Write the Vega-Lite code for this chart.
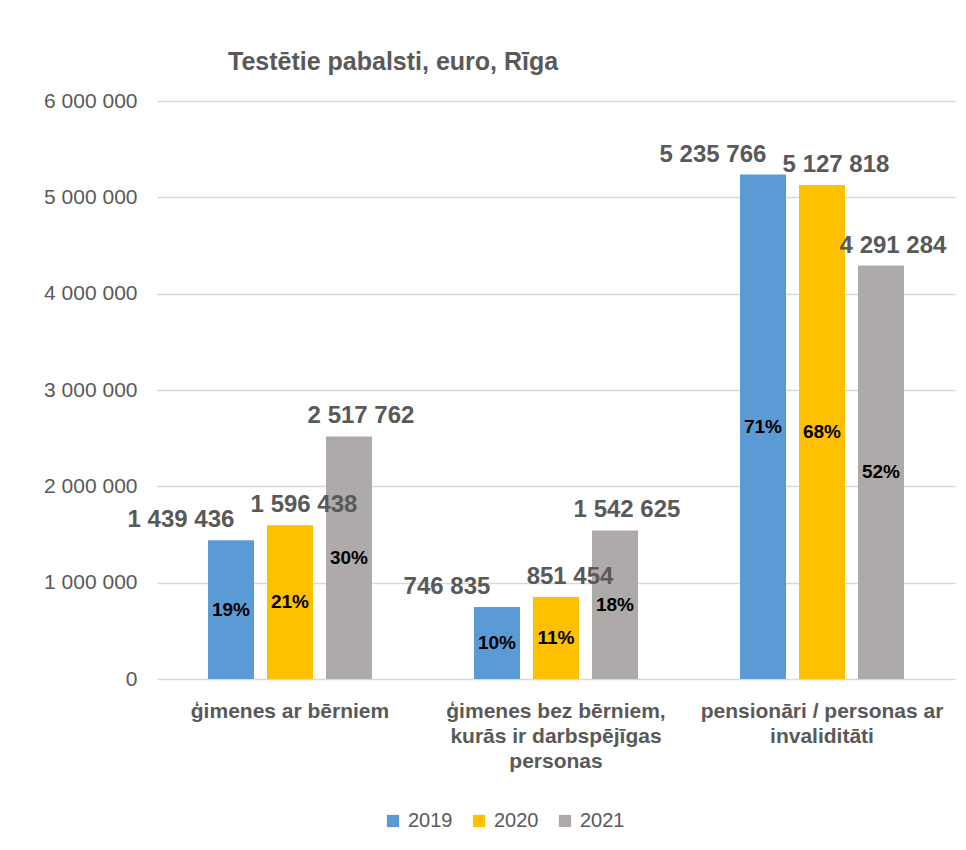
{
  "$schema": "https://vega.github.io/schema/vega-lite/v6.json",
  "width": 798,
  "height": 578,
  "autosize": {"type": "none"},
  "padding": {"left": 157, "top": 101, "right": 11, "bottom": 171},
  "background": "white",
  "config": {
    "locale": {"number": {"decimal": ",", "thousands": " ", "grouping": [3], "currency": ["", " €"]}},
    "font": "Liberation Sans",
    "view": {"stroke": null}
  },
  "title": {
    "text": "Testētie pabalsti, euro, Rīga",
    "anchor": "start",
    "frame": "group",
    "dx": 71,
    "dy": 5,
    "fontSize": 25,
    "fontWeight": "bold",
    "color": "#595959",
    "offset": 20
  },
  "data": {
    "values": [
      {"group": "ģimenes ar bērniem", "year": "2019", "value": 1439436, "share": 0.19},
      {"group": "ģimenes ar bērniem", "year": "2020", "value": 1596438, "share": 0.21},
      {"group": "ģimenes ar bērniem", "year": "2021", "value": 2517762, "share": 0.30},
      {"group": "ģimenes bez bērniem, kurās ir darbspējīgas personas", "year": "2019", "value": 746835, "share": 0.10},
      {"group": "ģimenes bez bērniem, kurās ir darbspējīgas personas", "year": "2020", "value": 851454, "share": 0.11},
      {"group": "ģimenes bez bērniem, kurās ir darbspējīgas personas", "year": "2021", "value": 1542625, "share": 0.18},
      {"group": "pensionāri / personas ar invaliditāti", "year": "2019", "value": 5235766, "share": 0.71},
      {"group": "pensionāri / personas ar invaliditāti", "year": "2020", "value": 5127818, "share": 0.68},
      {"group": "pensionāri / personas ar invaliditāti", "year": "2021", "value": 4291284, "share": 0.52}
    ]
  },
  "encoding": {
    "x": {
      "field": "group",
      "type": "nominal",
      "sort": null,
      "scale": {"paddingInner": 0, "paddingOuter": 0},
      "axis": {
        "title": null,
        "labelAngle": 0,
        "labelFontSize": 21,
        "labelFontWeight": "bold",
        "labelColor": "#595959",
        "labelLimit": 400,
        "labelLineHeight": 25,
        "labelPadding": 21,
        "domain": false,
        "ticks": false,
        "tickSize": 0,
        "labelExpr": "indexof(datum.label, 'kurās') >= 0 ? ['ģimenes bez bērniem,', 'kurās ir darbspējīgas', 'personas'] : indexof(datum.label, 'pensionāri') >= 0 ? ['pensionāri / personas ar', 'invaliditāti'] : datum.label"
      }
    },
    "xOffset": {
      "field": "year",
      "type": "nominal",
      "scale": {"paddingInner": 0.22, "paddingOuter": 0.864}
    }
  },
  "layer": [
    {
      "mark": {"type": "bar"},
      "encoding": {
        "y": {
          "field": "value",
          "type": "quantitative",
          "scale": {"domain": [0, 6000000], "nice": false},
          "axis": {
            "title": null,
            "values": [0, 1000000, 2000000, 3000000, 4000000, 5000000, 6000000],
            "format": ",d",
            "labelFontSize": 21,
            "labelColor": "#595959",
            "grid": true,
            "gridColor": "#d9d9d9",
            "gridWidth": 1.5,
            "domain": false,
            "ticks": false,
            "tickSize": 0,
            "labelPadding": 20
          }
        },
        "color": {
          "field": "year",
          "type": "nominal",
          "scale": {"domain": ["2019", "2020", "2021"], "range": ["#5B9BD5", "#FFC000", "#AEAAAA"]},
          "legend": {
            "orient": "none",
            "legendX": 226,
            "legendY": 710,
            "direction": "horizontal",
            "title": null,
            "symbolType": "square",
            "symbolSize": 150,
            "symbolStrokeWidth": 0,
            "labelFontSize": 20,
            "labelColor": "#595959",
            "labelOffset": 5,
            "columnPadding": 16
          }
        }
      }
    },
    {
      "transform": [{"filter": "datum.year == '2019'"}],
      "mark": {"type": "text", "dx": -50, "dy": -20, "baseline": "middle", "fontSize": 24, "fontWeight": "bold", "color": "#595959"},
      "encoding": {
        "y": {"field": "value", "type": "quantitative", "scale": {"domain": [0, 6000000], "nice": false}, "axis": null},
        "text": {"field": "value", "type": "quantitative", "format": ",d"}
      }
    },
    {
      "transform": [{"filter": "datum.year == '2020'"}],
      "mark": {"type": "text", "dx": 14, "dy": -20, "baseline": "middle", "fontSize": 24, "fontWeight": "bold", "color": "#595959"},
      "encoding": {
        "y": {"field": "value", "type": "quantitative", "scale": {"domain": [0, 6000000], "nice": false}, "axis": null},
        "text": {"field": "value", "type": "quantitative", "format": ",d"}
      }
    },
    {
      "transform": [{"filter": "datum.year == '2021'"}],
      "mark": {"type": "text", "dx": 12, "dy": -20, "baseline": "middle", "fontSize": 24, "fontWeight": "bold", "color": "#595959"},
      "encoding": {
        "y": {"field": "value", "type": "quantitative", "scale": {"domain": [0, 6000000], "nice": false}, "axis": null},
        "text": {"field": "value", "type": "quantitative", "format": ",d"}
      }
    },
    {
      "mark": {"type": "text", "baseline": "middle", "fontSize": 19, "fontWeight": "bold", "color": "#000000"},
      "encoding": {
        "y": {"field": "value", "type": "quantitative", "scale": {"domain": [0, 12000000], "nice": false}, "axis": null},
        "text": {"field": "share", "type": "quantitative", "format": ".0%"}
      }
    }
  ],
  "resolve": {"scale": {"y": "independent"}}
}
